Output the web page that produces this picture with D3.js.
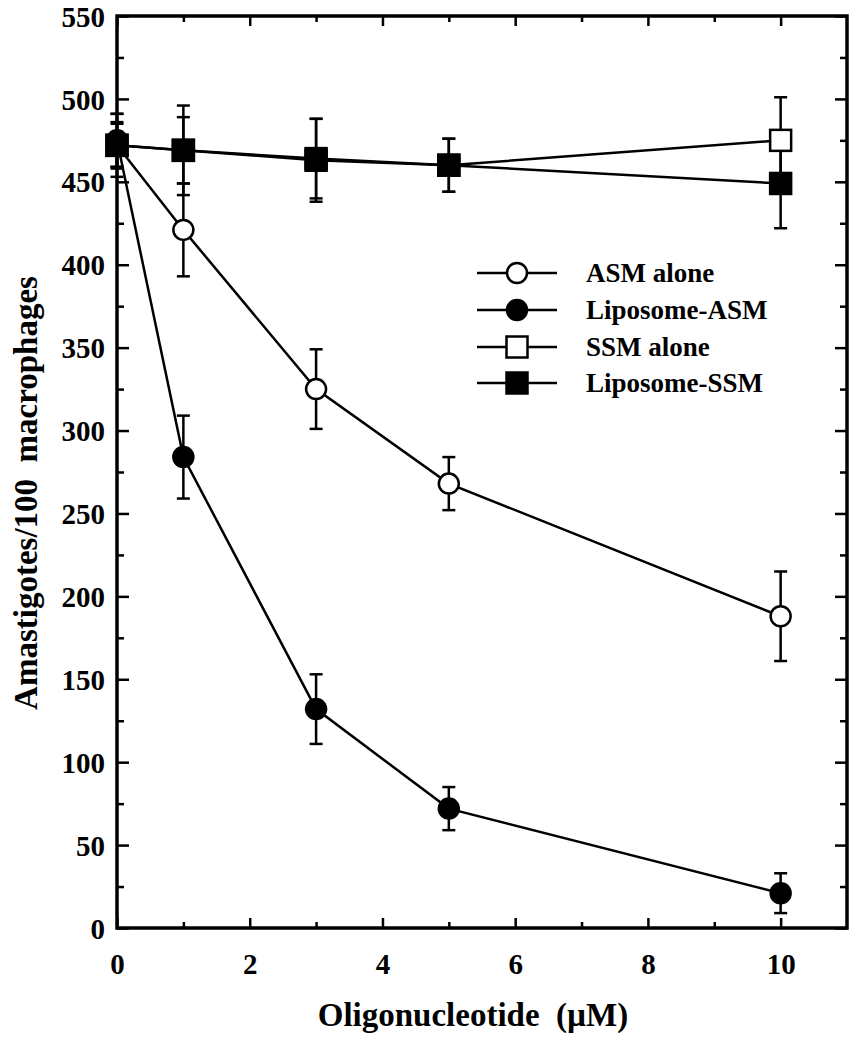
<!DOCTYPE html>
<html><head><meta charset="utf-8">
<script src="https://cdn.jsdelivr.net/npm/d3@7"></script>
<style>body{margin:0;background:#fff}svg{display:block}text{font-family:"Liberation Serif","Times New Roman",serif;font-weight:bold;fill:#000}</style>
</head><body>
<script>
const xValues = [0, 1, 3, 5, 10];
const asmAlone = [472, 421, 325, 268, 188];
const asmAloneErr = [13, 28, 24, 16, 27];
const liposomeAsm = [475, 284, 132, 72, 21];
const liposomeAsmErr = [16, 25, 21, 13, 12];
const ssmAlone = [472, 469, 463, 460, 475];
const ssmAloneErr = [19, 20, 25, 16, 26];
const liposomeSsm = [472, 469, 464, 460, 449];
const liposomeSsmErr = [14, 27, 24, 16, 27];
const xTicks = [0, 2, 4, 6, 8, 10];
const yTicks = [0, 50, 100, 150, 200, 250, 300, 350, 400, 450, 500, 550];
const seriesNames = ["ASM alone", "Liposome-ASM", "SSM alone", "Liposome-SSM"];

const W = 858, H = 1050;
const svg = d3.select("body").append("svg").attr("width", W).attr("height", H);
const x = d3.scaleLinear().domain([0, 11]).range([117, 847]);
const y = d3.scaleLinear().domain([0, 550]).range([928, 16]);

const series = [
  {name: seriesNames[0], v: asmAlone, e: asmAloneErr, shape: "circle", fill: "#fff"},
  {name: seriesNames[1], v: liposomeAsm, e: liposomeAsmErr, shape: "circle", fill: "#000"},
  {name: seriesNames[2], v: ssmAlone, e: ssmAloneErr, shape: "square", fill: "#fff"},
  {name: seriesNames[3], v: liposomeSsm, e: liposomeSsmErr, shape: "square", fill: "#000"}
];

// axes frame with ticks
const g = svg.append("g");
const majorY = yTicks, minorY = d3.range(25, 550, 50);
const majorX = xTicks, minorX = [1, 3, 5, 7, 9];
g.append("g").attr("transform", `translate(${x(0)},0)`)
  .call(d3.axisLeft(y).tickValues(majorY).tickSize(-12).tickPadding(12).tickFormat(d3.format("d")))
  .call(a => a.selectAll("text").attr("font-size", 29).attr("dy", "0.35em"));
g.append("g").attr("transform", `translate(${x(0)},0)`)
  .call(d3.axisLeft(y).tickValues(minorY).tickSize(-7).tickFormat(""));
g.append("g").attr("transform", `translate(${x(11)},0)`)
  .call(d3.axisRight(y).tickValues(majorY).tickSize(-12).tickFormat(""));
g.append("g").attr("transform", `translate(${x(11)},0)`)
  .call(d3.axisRight(y).tickValues(minorY).tickSize(-7).tickFormat(""));
g.append("g").attr("transform", `translate(0,${y(0)})`)
  .call(d3.axisBottom(x).tickValues(majorX).tickSize(-10).tickPadding(25).tickFormat(d3.format("d")))
  .call(a => a.selectAll("text").attr("font-size", 29).attr("dy", "0.71em"));
g.append("g").attr("transform", `translate(0,${y(0)})`)
  .call(d3.axisBottom(x).tickValues(minorX).tickSize(-6).tickFormat(""));
g.append("g").attr("transform", `translate(0,${y(550)})`)
  .call(d3.axisTop(x).tickValues(majorX).tickSize(-10).tickFormat(""));
g.append("g").attr("transform", `translate(0,${y(550)})`)
  .call(d3.axisTop(x).tickValues(minorX).tickSize(-6).tickFormat(""));
g.selectAll(".domain").remove();
g.selectAll(".tick line").attr("stroke", "#000").attr("stroke-width", 2.5);
g.append("rect").attr("x", x(0)).attr("y", y(550)).attr("width", x(11) - x(0)).attr("height", y(0) - y(550))
  .attr("fill", "none").attr("stroke", "#000").attr("stroke-width", 3.5);

// titles
svg.append("text").attr("x", 473).attr("y", 1026).attr("text-anchor", "middle").attr("font-size", 33)
  .attr("xml:space", "preserve").text("Oligonucleotide  (\u00B5M)");
svg.append("text").attr("transform", "translate(37,493) rotate(-90)").attr("text-anchor", "middle")
  .attr("font-size", 33).attr("xml:space", "preserve").text("Amastigotes/100  macrophages");

const line = d3.line().x((d, i) => x(xValues[i])).y(d => y(d));
function marker(sel, shape, fill, cx, cy) {
  if (shape === "circle") {
    sel.append("circle").attr("cx", cx).attr("cy", cy).attr("r", 10)
      .attr("fill", fill).attr("stroke", "#000").attr("stroke-width", 2.5);
  } else {
    sel.append("rect").attr("x", cx - 10.5).attr("y", cy - 10.5).attr("width", 21).attr("height", 21)
      .attr("fill", fill).attr("stroke", "#000").attr("stroke-width", 2.5);
  }
}
const plot = svg.append("g");
series.forEach(s => {
  plot.append("path").datum(s.v).attr("d", line).attr("fill", "none").attr("stroke", "#000").attr("stroke-width", 2.5);
});
series.forEach(s => {
  s.v.forEach((v, i) => {
    const cx = x(xValues[i]);
    const g2 = plot.append("g").attr("stroke", "#000").attr("stroke-width", 2.5);
    g2.append("line").attr("x1", cx).attr("x2", cx).attr("y1", y(v - s.e[i])).attr("y2", y(v + s.e[i]));
    [v - s.e[i], v + s.e[i]].forEach(t => g2.append("line").attr("x1", cx - 6.5).attr("x2", cx + 6.5).attr("y1", y(t)).attr("y2", y(t)));
  });
});
series.forEach(s => {
  s.v.forEach((v, i) => marker(plot, s.shape, s.fill, x(xValues[i]), y(v)));
});

// legend
const legY = [273, 310, 347, 383];
series.forEach((s, i) => {
  const lg = svg.append("g");
  lg.append("line").attr("x1", 477).attr("x2", 557).attr("y1", legY[i]).attr("y2", legY[i]).attr("stroke", "#000").attr("stroke-width", 2.5);
  marker(lg, s.shape, s.fill, 517, legY[i]);
  lg.append("text").attr("x", 586).attr("y", legY[i]).attr("dy", "0.35em").attr("font-size", 27).text(s.name);
});
</script>
</body></html>
